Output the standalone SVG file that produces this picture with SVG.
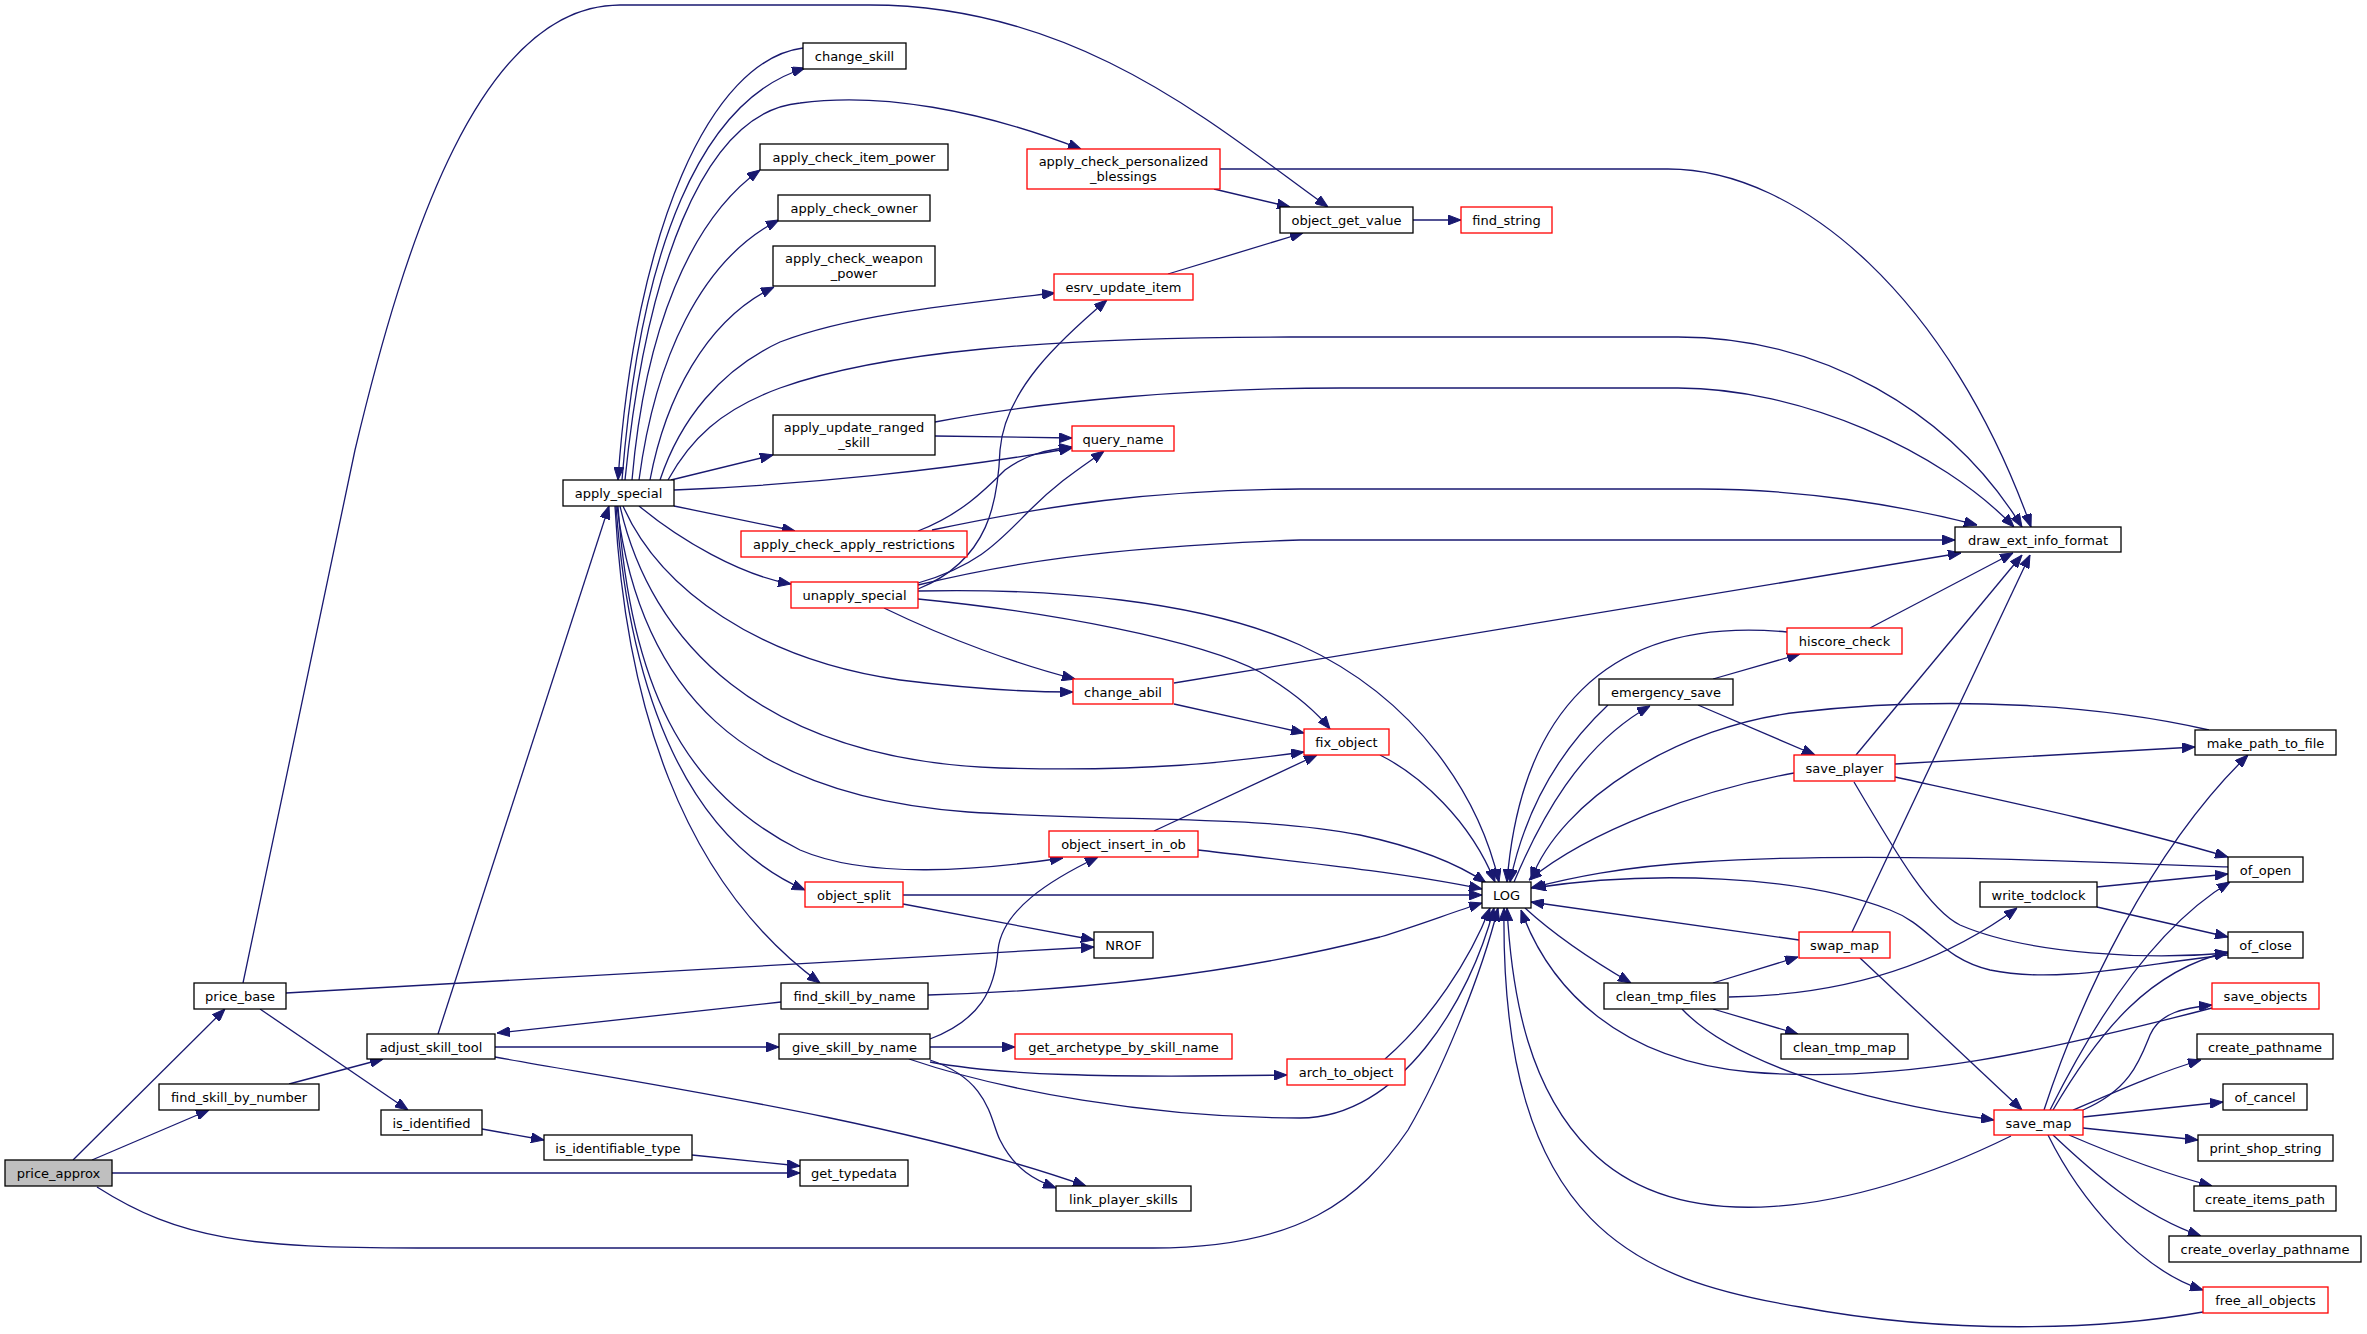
<svg xmlns="http://www.w3.org/2000/svg" width="2367" height="1334" viewBox="0 0 2367 1334">
<style>
.n rect{fill:#fff;stroke:#000;stroke-width:1.3}
.n.r rect{stroke:#f00}
.n.root rect{fill:#bfbfbf}
.n text{font-family:"DejaVu Sans","Liberation Sans",sans-serif;font-size:13px;text-anchor:middle;fill:#000}
#edges path{fill:none;stroke:#191970;stroke-width:1.3;marker-end:url(#a)}
</style>
<defs>
<marker id="a" viewBox="0 0 13 10" refX="13" refY="5" markerWidth="13" markerHeight="10" markerUnits="userSpaceOnUse" orient="auto">
<path d="M0,0 L13,5 L0,10 z" fill="#191970" stroke="#191970" stroke-width="1"/>
</marker>
</defs>
<rect x="0" y="0" width="2367" height="1334" fill="#fff"/>
<g id="edges">
<path d="M73,1160 L225,1009"/>
<path d="M92,1160 L209,1110"/>
<path d="M112,1173 L800,1173"/>
<path d="M97,1187 C180,1240 250,1248 418,1248 L1153,1248 C1300,1248 1360,1200 1408,1130 C1440,1075 1480,980 1498,908"/>
<path d="M243,983 L355,450 C405,240 480,5 620,5 L870,5 C1080,5 1220,130 1328,207"/>
<path d="M286,993 L1094,947"/>
<path d="M260,1009 L408,1110"/>
<path d="M289,1084 L383,1059"/>
<path d="M438,1034 L609,506"/>
<path d="M495,1047 L779,1047"/>
<path d="M495,1057 C620,1080 900,1120 1086,1186"/>
<path d="M482,1129 L544,1140"/>
<path d="M692,1155 L800,1166"/>
<path d="M803,48 C710,60 635,230 618,480"/>
<path d="M622,480 C640,250 700,100 805,68"/>
<path d="M625,480 C645,280 700,112 800,103 C880,92 980,110 1081,149"/>
<path d="M632,480 C645,330 690,220 760,170"/>
<path d="M639,480 C655,360 700,260 779,220"/>
<path d="M650,480 C665,400 705,320 774,287"/>
<path d="M660,480 C680,420 720,370 780,342 C850,315 950,305 1055,293"/>
<path d="M668,480 C690,440 720,410 780,388 C880,352 1050,337 1290,337 L1678,337 C1820,337 1950,410 2022,527"/>
<path d="M671,480 L773,455"/>
<path d="M674,490 C800,485 950,470 1072,448"/>
<path d="M674,506 L795,531"/>
<path d="M639,506 C680,540 740,575 791,584"/>
<path d="M623,506 C660,590 760,660 900,680 C980,690 1030,692 1073,692"/>
<path d="M620,506 C650,640 760,760 1000,768 C1150,772 1230,762 1304,752"/>
<path d="M617,506 C640,690 740,795 968,812 C1120,822 1260,815 1360,835 C1420,848 1460,865 1486,883"/>
<path d="M618,506 C630,680 680,790 800,850 C870,880 980,870 1063,858"/>
<path d="M616,506 C630,700 690,840 805,890"/>
<path d="M615,506 C625,700 680,880 820,983"/>
<path d="M1220,169 L1668,169 C1800,169 1950,300 2031,527"/>
<path d="M1214,189 L1290,207"/>
<path d="M1168,274 L1303,233"/>
<path d="M1413,220 L1461,220"/>
<path d="M935,422 C1050,400 1200,388 1341,388 L1678,388 C1800,388 1940,450 2014,527"/>
<path d="M935,436 L1072,438"/>
<path d="M918,531 C960,515 985,490 1005,470 C1025,455 1045,450 1072,447"/>
<path d="M932,530 C1050,505 1150,490 1300,489 L1700,489 C1800,489 1900,505 1977,525"/>
<path d="M918,585 C1000,565 1100,547 1300,540 L1955,540"/>
<path d="M918,589 C990,560 998,500 1000,450 C1005,390 1060,340 1107,300"/>
<path d="M918,583 C980,565 1000,540 1030,510 C1060,480 1085,465 1104,451"/>
<path d="M918,591 C1050,588 1200,600 1300,645 C1420,700 1480,800 1499,882"/>
<path d="M918,599 C1050,612 1200,640 1260,672 C1290,690 1315,710 1330,729"/>
<path d="M884,608 C950,640 1020,665 1075,679"/>
<path d="M1174,683 L1961,553"/>
<path d="M1174,704 L1304,733"/>
<path d="M1380,755 C1420,775 1470,820 1495,882"/>
<path d="M1154,831 L1317,755"/>
<path d="M1198,850 C1300,862 1400,872 1482,889"/>
<path d="M903,895 L1482,895"/>
<path d="M903,904 L1094,940"/>
<path d="M928,995 C1100,990 1250,970 1380,937 C1420,925 1450,913 1482,903"/>
<path d="M781,1002 L497,1033"/>
<path d="M930,1039 C980,1020 995,990 998,950 C1002,910 1050,880 1098,857"/>
<path d="M930,1047 L1015,1047"/>
<path d="M930,1062 C1000,1075 1100,1078 1287,1075"/>
<path d="M909,1059 C1000,1090 1150,1118 1300,1118 C1400,1118 1470,1000 1494,908"/>
<path d="M930,1060 C990,1080 990,1120 1000,1140 C1015,1170 1035,1180 1056,1188"/>
<path d="M1385,1059 C1430,1020 1470,960 1490,908"/>
<path d="M1514,882 C1540,820 1580,745 1650,706"/>
<path d="M1608,705 C1560,750 1525,810 1510,882"/>
<path d="M1713,679 L1800,654"/>
<path d="M1698,705 L1815,755"/>
<path d="M1787,632 C1600,615 1520,720 1507,882"/>
<path d="M1870,628 L2013,553"/>
<path d="M1794,773 C1700,790 1590,830 1529,880"/>
<path d="M1856,755 L2022,555"/>
<path d="M1895,764 L2195,747"/>
<path d="M1895,777 C2000,800 2120,825 2228,857"/>
<path d="M1854,782 C1900,860 1930,910 1960,925 C2030,955 2150,960 2228,953"/>
<path d="M2209,730 C2100,705 1950,695 1800,712 C1680,725 1560,800 1531,880"/>
<path d="M2228,867 C2050,860 1850,852 1700,862 C1620,867 1570,878 1531,888"/>
<path d="M2097,887 L2228,874"/>
<path d="M2097,907 L2228,937"/>
<path d="M1799,940 L1531,902"/>
<path d="M1852,932 L2030,555"/>
<path d="M1860,958 L2022,1110"/>
<path d="M2228,955 C2150,962 2060,985 1990,970 C1940,958 1930,925 1890,910 C1800,875 1650,870 1533,888"/>
<path d="M2053,1110 C2100,1030 2150,970 2228,952"/>
<path d="M2044,1110 C2080,1000 2150,850 2248,755"/>
<path d="M2050,1110 C2090,1030 2150,930 2230,882"/>
<path d="M2083,1110 C2130,1090 2140,1060 2150,1035 C2160,1012 2185,1008 2212,1005"/>
<path d="M2073,1110 C2120,1090 2160,1072 2201,1060"/>
<path d="M2083,1117 L2223,1102"/>
<path d="M2083,1128 L2198,1140"/>
<path d="M2069,1135 C2120,1157 2170,1175 2212,1186"/>
<path d="M2053,1135 C2090,1170 2140,1215 2201,1236"/>
<path d="M2048,1135 C2080,1200 2140,1270 2203,1290"/>
<path d="M2011,1136 C1850,1215 1680,1240 1590,1150 C1530,1090 1512,1000 1507,908"/>
<path d="M2203,1312 C2100,1330 1950,1335 1800,1307 C1640,1280 1500,1230 1504,908"/>
<path d="M2212,1008 C2050,1050 1900,1085 1750,1072 C1620,1060 1550,990 1521,910"/>
<path d="M1525,908 C1560,940 1600,965 1631,983"/>
<path d="M1713,983 L1798,957"/>
<path d="M1729,997 C1870,995 1960,950 2017,908"/>
<path d="M1713,1009 L1798,1034"/>
<path d="M1682,1009 C1730,1060 1850,1100 1994,1120"/>
</g>
<g id="price_approx" class="n root"><rect x="5" y="1160" width="107" height="26"/><text x="58.5" y="1177.5">price_approx</text></g>
<g id="price_base" class="n"><rect x="194" y="983" width="92" height="26"/><text x="240" y="1000.5">price_base</text></g>
<g id="find_skill_by_number" class="n"><rect x="159" y="1084" width="160" height="26"/><text x="239" y="1101.5">find_skill_by_number</text></g>
<g id="adjust_skill_tool" class="n"><rect x="367" y="1034" width="128" height="25"/><text x="431" y="1051.5">adjust_skill_tool</text></g>
<g id="is_identified" class="n"><rect x="381" y="1110" width="101" height="25"/><text x="431.5" y="1127.5">is_identified</text></g>
<g id="apply_special" class="n"><rect x="563" y="480" width="111" height="26"/><text x="618.5" y="497.5">apply_special</text></g>
<g id="is_identifiable_type" class="n"><rect x="544" y="1135" width="148" height="25"/><text x="618" y="1152.5">is_identifiable_type</text></g>
<g id="change_skill" class="n"><rect x="803" y="43" width="103" height="26"/><text x="854.5" y="60.5">change_skill</text></g>
<g id="apply_check_item_power" class="n"><rect x="760" y="144" width="188" height="26"/><text x="854" y="161.5">apply_check_item_power</text></g>
<g id="apply_check_owner" class="n"><rect x="778" y="195" width="152" height="26"/><text x="854" y="212.5">apply_check_owner</text></g>
<g id="apply_check_weapon_power" class="n"><rect x="773" y="246" width="162" height="40"/><text x="854" y="263">apply_check_weapon</text><text x="854" y="277.5">_power</text></g>
<g id="apply_update_ranged_skill" class="n"><rect x="773" y="415" width="162" height="40"/><text x="854" y="432">apply_update_ranged</text><text x="854" y="446.5">_skill</text></g>
<g id="apply_check_apply_restrictions" class="n r"><rect x="741" y="531" width="226" height="26"/><text x="854" y="548.5">apply_check_apply_restrictions</text></g>
<g id="unapply_special" class="n r"><rect x="791" y="582" width="127" height="26"/><text x="854.5" y="599.5">unapply_special</text></g>
<g id="object_split" class="n r"><rect x="805" y="882" width="98" height="25"/><text x="854" y="899.5">object_split</text></g>
<g id="find_skill_by_name" class="n"><rect x="781" y="983" width="147" height="26"/><text x="854.5" y="1000.5">find_skill_by_name</text></g>
<g id="give_skill_by_name" class="n"><rect x="779" y="1034" width="151" height="25"/><text x="854.5" y="1051.5">give_skill_by_name</text></g>
<g id="get_typedata" class="n"><rect x="800" y="1160" width="108" height="26"/><text x="854" y="1177.5">get_typedata</text></g>
<g id="apply_check_personalized_blessings" class="n r"><rect x="1027" y="149" width="193" height="40"/><text x="1123.5" y="166">apply_check_personalized</text><text x="1123.5" y="180.5">_blessings</text></g>
<g id="esrv_update_item" class="n r"><rect x="1054" y="274" width="139" height="26"/><text x="1123.5" y="291.5">esrv_update_item</text></g>
<g id="query_name" class="n r"><rect x="1072" y="426" width="102" height="25"/><text x="1123" y="443.5">query_name</text></g>
<g id="change_abil" class="n r"><rect x="1073" y="679" width="100" height="25"/><text x="1123" y="696.5">change_abil</text></g>
<g id="object_insert_in_ob" class="n r"><rect x="1049" y="831" width="149" height="26"/><text x="1123.5" y="848.5">object_insert_in_ob</text></g>
<g id="NROF" class="n"><rect x="1094" y="932" width="59" height="26"/><text x="1123.5" y="949.5">NROF</text></g>
<g id="get_archetype_by_skill_name" class="n r"><rect x="1015" y="1034" width="217" height="25"/><text x="1123.5" y="1051.5">get_archetype_by_skill_name</text></g>
<g id="link_player_skills" class="n"><rect x="1056" y="1186" width="135" height="25"/><text x="1123.5" y="1203.5">link_player_skills</text></g>
<g id="object_get_value" class="n"><rect x="1280" y="207" width="133" height="26"/><text x="1346.5" y="224.5">object_get_value</text></g>
<g id="fix_object" class="n r"><rect x="1304" y="729" width="85" height="26"/><text x="1346.5" y="746.5">fix_object</text></g>
<g id="arch_to_object" class="n r"><rect x="1287" y="1059" width="118" height="26"/><text x="1346" y="1076.5">arch_to_object</text></g>
<g id="find_string" class="n r"><rect x="1461" y="207" width="91" height="26"/><text x="1506.5" y="224.5">find_string</text></g>
<g id="LOG" class="n"><rect x="1482" y="882" width="49" height="26"/><text x="1506.5" y="899.5">LOG</text></g>
<g id="emergency_save" class="n"><rect x="1599" y="679" width="134" height="26"/><text x="1666" y="696.5">emergency_save</text></g>
<g id="clean_tmp_files" class="n"><rect x="1604" y="983" width="124" height="26"/><text x="1666" y="1000.5">clean_tmp_files</text></g>
<g id="hiscore_check" class="n r"><rect x="1787" y="628" width="115" height="26"/><text x="1844.5" y="645.5">hiscore_check</text></g>
<g id="save_player" class="n r"><rect x="1794" y="755" width="101" height="26"/><text x="1844.5" y="772.5">save_player</text></g>
<g id="swap_map" class="n r"><rect x="1799" y="932" width="91" height="26"/><text x="1844.5" y="949.5">swap_map</text></g>
<g id="clean_tmp_map" class="n"><rect x="1781" y="1034" width="127" height="25"/><text x="1844.5" y="1051.5">clean_tmp_map</text></g>
<g id="draw_ext_info_format" class="n"><rect x="1955" y="527" width="166" height="25"/><text x="2038" y="544.5">draw_ext_info_format</text></g>
<g id="write_todclock" class="n"><rect x="1980" y="882" width="117" height="25"/><text x="2038.5" y="899.5">write_todclock</text></g>
<g id="save_map" class="n r"><rect x="1994" y="1110" width="89" height="25"/><text x="2038.5" y="1127.5">save_map</text></g>
<g id="make_path_to_file" class="n"><rect x="2195" y="730" width="141" height="25"/><text x="2265.5" y="747.5">make_path_to_file</text></g>
<g id="of_open" class="n"><rect x="2228" y="857" width="75" height="25"/><text x="2265.5" y="874.5">of_open</text></g>
<g id="of_close" class="n"><rect x="2228" y="932" width="75" height="26"/><text x="2265.5" y="949.5">of_close</text></g>
<g id="save_objects" class="n r"><rect x="2212" y="983" width="107" height="26"/><text x="2265.5" y="1000.5">save_objects</text></g>
<g id="create_pathname" class="n"><rect x="2197" y="1034" width="136" height="25"/><text x="2265" y="1051.5">create_pathname</text></g>
<g id="of_cancel" class="n"><rect x="2223" y="1084" width="84" height="26"/><text x="2265" y="1101.5">of_cancel</text></g>
<g id="print_shop_string" class="n"><rect x="2198" y="1135" width="135" height="26"/><text x="2265.5" y="1152.5">print_shop_string</text></g>
<g id="create_items_path" class="n"><rect x="2194" y="1186" width="142" height="25"/><text x="2265" y="1203.5">create_items_path</text></g>
<g id="create_overlay_pathname" class="n"><rect x="2169" y="1236" width="192" height="26"/><text x="2265" y="1253.5">create_overlay_pathname</text></g>
<g id="free_all_objects" class="n r"><rect x="2203" y="1287" width="125" height="26"/><text x="2265.5" y="1304.5">free_all_objects</text></g>
</svg>
